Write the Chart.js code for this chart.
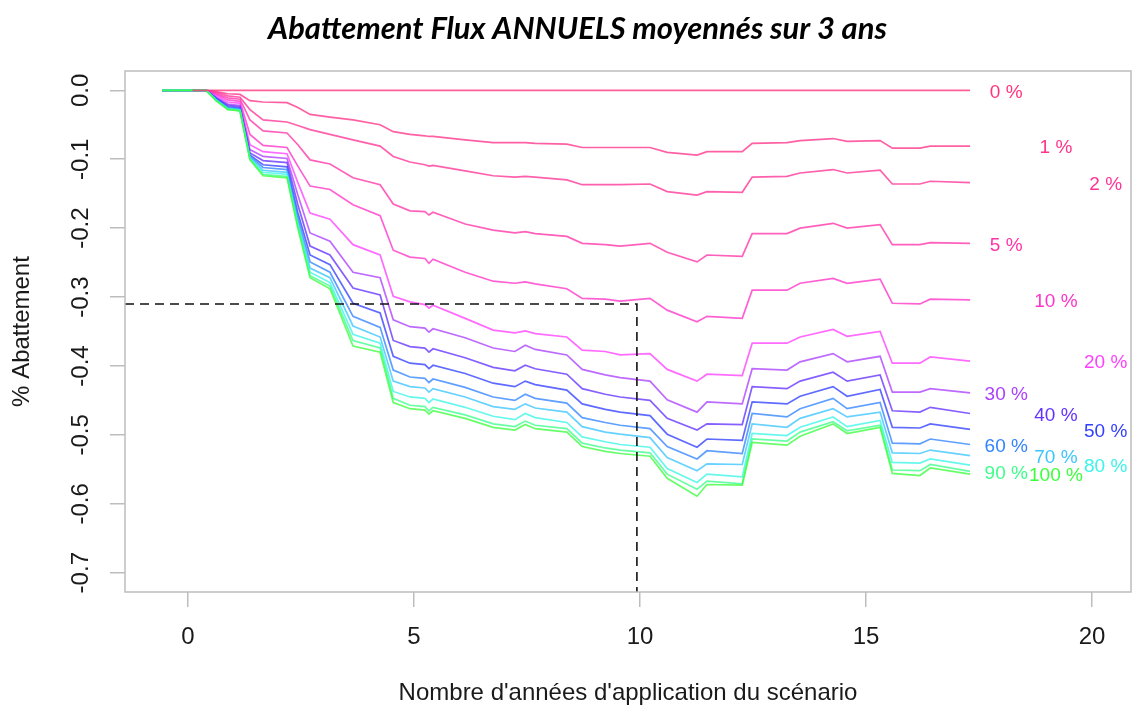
<!DOCTYPE html>
<html>
<head>
<meta charset="utf-8">
<script src="https://cdn.jsdelivr.net/npm/chart.js@4.4.1/dist/chart.umd.min.js"></script>
<style>
html,body{margin:0;padding:0;background:#fff;}
#wrap{width:1132px;height:709px;}
</style>
</head>
<body>
<div id="wrap"><canvas id="c" width="1132" height="709"></canvas></div>
<script>
// ---------- texts ----------
const titleText = "Abattement Flux ANNUELS moyennés sur 3 ans";
const xTitle = "Nombre d'années d'application du scénario";
const yTitle = "% Abattement";

// ---------- axes ----------
const xTickValues = [0, 5, 10, 15, 20];
const yTickValues = [0, -0.1, -0.2, -0.3, -0.4, -0.5, -0.6, -0.7];

// ---------- data ----------
const xYears = [-0.575, 0.10, 0.40, 0.62, 0.88, 1.15, 1.37, 1.66, 2.19, 2.43, 2.70, 3.14, 3.65, 4.25, 4.54, 4.91, 5.24, 5.33, 5.42, 6.13, 6.75, 7.23, 7.46, 7.68, 8.38, 8.72, 9.23, 9.56, 10.22, 10.60, 11.26, 11.48, 12.26, 12.48, 13.25, 13.54, 14.27, 14.58, 15.31, 15.58, 16.19, 16.42, 17.30];

const seriesNames = ['0 %', '1 %', '2 %', '5 %', '10 %', '20 %', '30 %', '40 %', '50 %', '60 %', '70 %', '80 %', '90 %', '100 %'];

const p0 = [null,0,0,0,0,0,0,0,0,0,0,0,0,0,0,0,0,0,0,0,0,0,0,0,0,0,0,0,0,0,0,0,0,0,0,0,0,0,0,0,0,0,0];
const p1 = [0,0,0,-0.002,-0.005,-0.006,-0.015,-0.017,-0.018,-0.025,-0.035,-0.039,-0.043,-0.050,-0.060,-0.064,-0.066,-0.067,-0.067,-0.072,-0.076,-0.076,-0.076,-0.077,-0.078,-0.083,-0.083,-0.083,-0.083,-0.090,-0.094,-0.089,-0.089,-0.077,-0.076,-0.073,-0.070,-0.074,-0.073,-0.084,-0.084,-0.081,-0.081];
const p2 = [0,0,0,-0.003,-0.008,-0.010,-0.028,-0.043,-0.046,-0.051,-0.057,-0.064,-0.072,-0.081,-0.096,-0.104,-0.108,-0.110,-0.109,-0.117,-0.124,-0.126,-0.125,-0.126,-0.130,-0.137,-0.137,-0.137,-0.136,-0.147,-0.152,-0.147,-0.148,-0.126,-0.125,-0.120,-0.115,-0.120,-0.116,-0.136,-0.136,-0.132,-0.134];
const p5 = [0,0,0,-0.005,-0.011,-0.013,-0.043,-0.059,-0.062,-0.079,-0.101,-0.107,-0.127,-0.137,-0.165,-0.175,-0.176,-0.181,-0.177,-0.194,-0.203,-0.207,-0.205,-0.208,-0.212,-0.222,-0.224,-0.226,-0.222,-0.235,-0.249,-0.239,-0.241,-0.208,-0.208,-0.200,-0.193,-0.200,-0.195,-0.224,-0.224,-0.221,-0.222];
const p10 = [0,0,0,-0.006,-0.014,-0.016,-0.064,-0.080,-0.083,-0.110,-0.139,-0.144,-0.166,-0.182,-0.232,-0.242,-0.244,-0.251,-0.245,-0.264,-0.277,-0.280,-0.278,-0.281,-0.288,-0.302,-0.303,-0.306,-0.302,-0.319,-0.336,-0.328,-0.331,-0.290,-0.290,-0.280,-0.273,-0.280,-0.274,-0.309,-0.310,-0.303,-0.304];
const p20 = [0,0,0,-0.008,-0.017,-0.019,-0.079,-0.089,-0.092,-0.134,-0.178,-0.187,-0.224,-0.239,-0.299,-0.307,-0.311,-0.316,-0.312,-0.331,-0.348,-0.352,-0.349,-0.353,-0.358,-0.377,-0.379,-0.384,-0.382,-0.405,-0.422,-0.412,-0.414,-0.367,-0.367,-0.358,-0.347,-0.357,-0.350,-0.396,-0.396,-0.387,-0.393];
const p30 = [0,0,0,-0.010,-0.020,-0.022,-0.086,-0.096,-0.099,-0.152,-0.207,-0.219,-0.264,-0.272,-0.333,-0.343,-0.345,-0.351,-0.346,-0.359,-0.374,-0.379,-0.370,-0.376,-0.384,-0.405,-0.413,-0.417,-0.422,-0.449,-0.467,-0.452,-0.455,-0.404,-0.406,-0.394,-0.382,-0.394,-0.386,-0.438,-0.438,-0.433,-0.439];
const p40 = [0,0,0,-0.011,-0.022,-0.024,-0.091,-0.102,-0.105,-0.166,-0.226,-0.239,-0.287,-0.297,-0.363,-0.372,-0.374,-0.380,-0.375,-0.388,-0.402,-0.407,-0.399,-0.404,-0.412,-0.433,-0.441,-0.445,-0.450,-0.476,-0.493,-0.484,-0.485,-0.430,-0.433,-0.422,-0.409,-0.422,-0.413,-0.465,-0.467,-0.460,-0.469];
const p50 = [0,0,0,-0.012,-0.024,-0.026,-0.094,-0.108,-0.111,-0.178,-0.239,-0.253,-0.309,-0.323,-0.386,-0.396,-0.398,-0.404,-0.399,-0.411,-0.425,-0.430,-0.422,-0.427,-0.435,-0.455,-0.463,-0.467,-0.472,-0.499,-0.518,-0.506,-0.508,-0.452,-0.455,-0.444,-0.430,-0.444,-0.434,-0.489,-0.490,-0.484,-0.492];
const p60 = [0,0,0,-0.013,-0.025,-0.027,-0.096,-0.112,-0.115,-0.185,-0.249,-0.264,-0.328,-0.344,-0.406,-0.416,-0.418,-0.424,-0.419,-0.431,-0.445,-0.450,-0.441,-0.447,-0.454,-0.475,-0.482,-0.486,-0.491,-0.517,-0.535,-0.523,-0.527,-0.469,-0.474,-0.462,-0.447,-0.462,-0.453,-0.512,-0.513,-0.506,-0.514];
const p70 = [0,0,0,-0.014,-0.026,-0.028,-0.097,-0.116,-0.119,-0.191,-0.258,-0.272,-0.342,-0.358,-0.422,-0.430,-0.432,-0.438,-0.433,-0.445,-0.459,-0.463,-0.455,-0.461,-0.467,-0.488,-0.496,-0.499,-0.504,-0.533,-0.552,-0.542,-0.543,-0.484,-0.489,-0.476,-0.462,-0.474,-0.467,-0.526,-0.527,-0.522,-0.530];
const p80 = [0,0,0,-0.014,-0.027,-0.029,-0.099,-0.119,-0.122,-0.195,-0.264,-0.279,-0.354,-0.367,-0.437,-0.445,-0.447,-0.453,-0.448,-0.460,-0.473,-0.478,-0.469,-0.475,-0.482,-0.503,-0.510,-0.514,-0.518,-0.549,-0.569,-0.557,-0.561,-0.498,-0.501,-0.489,-0.474,-0.488,-0.479,-0.540,-0.541,-0.535,-0.544];
const p90 = [0,0,0,-0.015,-0.027,-0.030,-0.100,-0.122,-0.125,-0.198,-0.269,-0.284,-0.363,-0.374,-0.447,-0.457,-0.459,-0.465,-0.460,-0.471,-0.484,-0.488,-0.480,-0.486,-0.491,-0.512,-0.519,-0.522,-0.526,-0.557,-0.579,-0.567,-0.571,-0.506,-0.509,-0.496,-0.481,-0.494,-0.486,-0.551,-0.552,-0.543,-0.553];
const p100 = [0,0,0,-0.015,-0.028,-0.030,-0.101,-0.124,-0.127,-0.200,-0.272,-0.288,-0.371,-0.380,-0.453,-0.462,-0.464,-0.470,-0.465,-0.476,-0.489,-0.493,-0.485,-0.491,-0.496,-0.517,-0.524,-0.527,-0.531,-0.563,-0.589,-0.572,-0.573,-0.511,-0.515,-0.502,-0.484,-0.498,-0.489,-0.556,-0.559,-0.548,-0.557];

const seriesValues = [p0, p1, p2, p5, p10, p20, p30, p40, p50, p60, p70, p80, p90, p100];

// reference marks (dashed guide)
const markerYear = 9.93;
const markerValue = -0.31;

// ---------- style ----------
const seriesRGB = [
  [255,51,125],[255,51,138],[255,51,150],[255,51,168],[255,51,200],[255,64,255],
  [172,64,255],[100,50,255],[50,64,255],[50,132,255],[60,196,255],[60,245,232],
  [60,255,140],[60,255,60]
];
const labelColumns = [18.1, 19.2, 20.3];
const xMin = -1.394, xMax = 20.86, yMin = -0.728, yMax = 0.028;
const sansFamily = '"Liberation Sans", Arial, Helvetica, sans-serif';
const textColor = '#1a1a1a';
const frameColor = '#bdbdbd';

// fit the title font to the reference width
const mctx = document.createElement('canvas').getContext('2d');
mctx.font = 'italic bold 100px Lato';
const titleSize = Math.round(100 * 620 / mctx.measureText(titleText).width * 10) / 10;
const titleLH = 1.2;
const titleTopPad = 29 - titleSize * titleLH / 2;
const titleBottomPad = 71 - titleSize * titleLH - titleTopPad;

const datasets = seriesValues.map((vals, i) => ({
  label: seriesNames[i],
  data: xYears.map((x, j) => ({x: x, y: vals[j]})),
  borderColor: `rgba(${seriesRGB[i][0]},${seriesRGB[i][1]},${seriesRGB[i][2]},0.78)`,
  backgroundColor: 'transparent',
  borderWidth: 1.7,
  pointRadius: 0,
  tension: 0,
  spanGaps: false,
  fill: false,
  order: i === 0 ? 0 : (seriesValues.length - i)
}));

datasets.push({
  label: 'repère',
  data: [{x: xMin, y: markerValue}, {x: markerYear, y: markerValue}, {x: markerYear, y: yMin}],
  borderColor: '#111',
  borderWidth: 1.6,
  borderDash: [9, 6],
  pointRadius: 0,
  tension: 0,
  fill: false,
  order: -1
});

const bgPlugin = {
  id: 'bg',
  beforeDraw(chart) {
    const c = chart.ctx;
    c.save(); c.fillStyle = '#fff'; c.fillRect(0, 0, chart.width, chart.height); c.restore();
  }
};

const framePlugin = {
  id: 'frame',
  afterDatasetsDraw(chart) {
    const a = chart.chartArea, c = chart.ctx;
    c.save();
    c.strokeStyle = frameColor; c.lineWidth = 1.5;
    c.strokeRect(a.left, a.top, a.right - a.left, a.bottom - a.top);
    c.restore();
  }
};

const endLabelPlugin = {
  id: 'endLabels',
  afterDatasetsDraw(chart) {
    const c = chart.ctx, xs = chart.scales.x, ys = chart.scales.y;
    c.save();
    c.font = '19px ' + sansFamily;
    c.textAlign = 'center';
    c.textBaseline = 'middle';
    seriesValues.forEach((vals, i) => {
      const last = vals[vals.length - 1];
      c.fillStyle = `rgb(${seriesRGB[i][0]},${seriesRGB[i][1]},${seriesRGB[i][2]})`;
      c.fillText(seriesNames[i], xs.getPixelForValue(labelColumns[i % 3]), ys.getPixelForValue(last) + 2);
    });
    c.restore();
  }
};

new Chart(document.getElementById('c'), {
  type: 'line',
  data: {datasets},
  options: {
    responsive: false,
    animation: false,
    devicePixelRatio: 1,
    layout: {padding: {left: 24, right: 1, top: 0, bottom: 0}},
    plugins: {
      legend: {display: false},
      tooltip: {enabled: false},
      title: {
        display: true,
        text: titleText,
        color: '#000',
        font: {family: 'Lato', size: titleSize, weight: 'bold', style: 'italic', lineHeight: titleLH},
        padding: {top: titleTopPad, bottom: titleBottomPad}
      }
    },
    scales: {
      x: {
        type: 'linear',
        min: xMin, max: xMax,
        afterBuildTicks: s => { s.ticks = xTickValues.map(v => ({value: v})); },
        afterFit: s => { s.height = 117; },
        ticks: {
          autoSkip: false, maxRotation: 0, minRotation: 0,
          padding: 16, color: textColor,
          font: {family: sansFamily, size: 24, lineHeight: 1.2},
          callback: v => String(v)
        },
        grid: {drawOnChartArea: false, drawTicks: true, tickLength: 15, color: frameColor, lineWidth: 1.5},
        border: {display: false},
        title: {display: true, text: xTitle, color: textColor,
          font: {family: sansFamily, size: 24, lineHeight: 1.2}, padding: {top: 0, bottom: 1.6}}
      },
      y: {
        type: 'linear',
        min: yMin, max: yMax,
        afterBuildTicks: s => { s.ticks = yTickValues.map(v => ({value: v})); },
        afterFit: s => { s.width = 101; },
        ticks: {
          autoSkip: false, minRotation: 90, maxRotation: 90, crossAlign: 'center',
          padding: 8, color: textColor,
          font: {family: sansFamily, size: 24, lineHeight: 1.2},
          callback: v => Number(v).toFixed(1)
        },
        grid: {drawOnChartArea: false, drawTicks: true, tickLength: 15, color: frameColor, lineWidth: 1.5},
        border: {display: false},
        title: {display: true, text: yTitle, color: textColor,
          font: {family: sansFamily, size: 24, lineHeight: 1.2}, padding: {top: -16, bottom: 0}}
      }
    }
  },
  plugins: [bgPlugin, framePlugin, endLabelPlugin]
});
</script>
</body>
</html>
